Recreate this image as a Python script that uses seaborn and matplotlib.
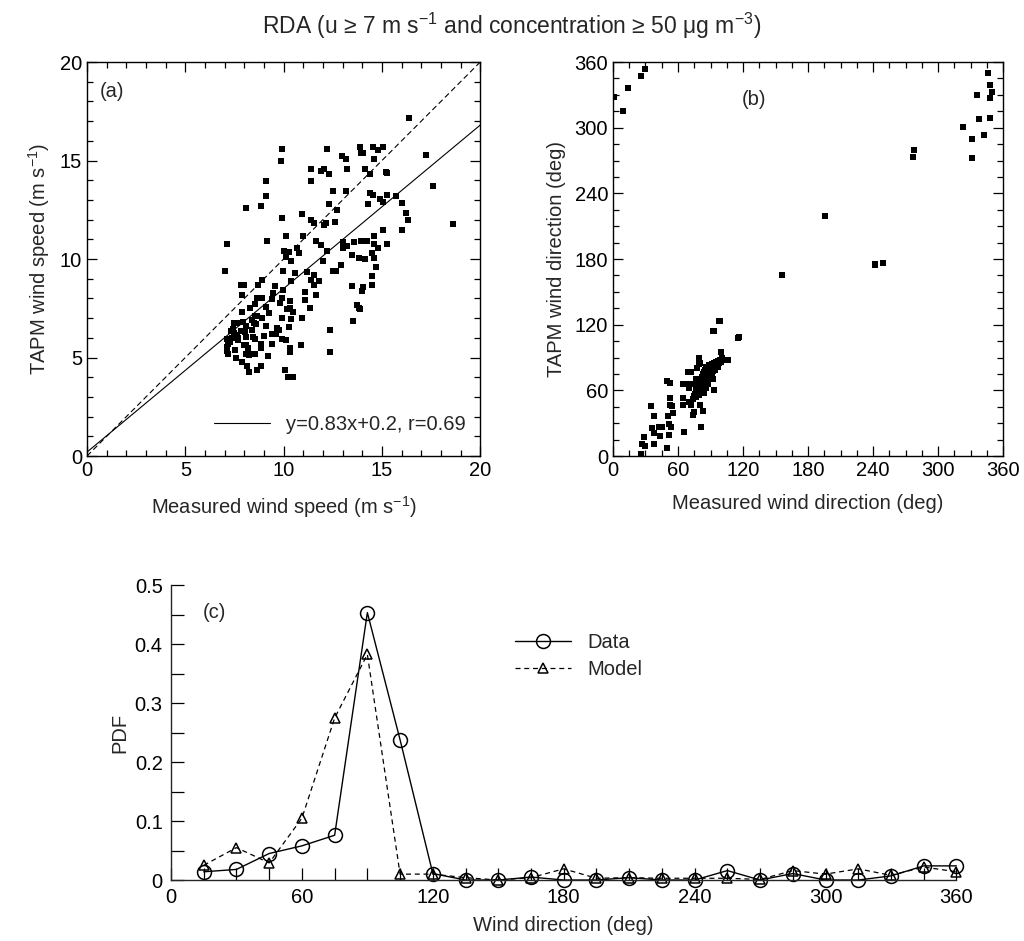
import numpy as np
import pandas as pd
import matplotlib
matplotlib.use("Agg")
import matplotlib.pyplot as plt
from matplotlib.ticker import MultipleLocator
import seaborn as sns

# ---------------- data ----------------
# Panel (a): measured vs TAPM wind speed (m/s)
speed_meas = [16.38, 9.93, 9.88, 12.22, 13.89, 14.55, 15.03, 13.92, 14.06, 14.82, 14.6, 12.95, 13.19, 17.23,
              11.41, 11.88, 12.05, 12.3, 13.21, 14.13, 14.38, 15.23, 15.28, 11.41, 9.12, 17.6, 9.12, 12.53,
              13.19, 14.38, 14.55, 14.89, 15.28, 15.7, 15.06, 14.3, 12.31, 8.83, 8.06, 12.7, 16.04, 16.21,
              16.35, 10.95, 9.93, 11.38, 11.55, 12.05, 12.17, 12.6, 18.62, 15.03, 16.04, 10.1, 11.0, 9.17,
              11.63, 7.13, 11.88, 12.22, 10.7, 10.02, 10.1, 10.27, 10.78, 13.0, 13.02, 13.24, 13.58, 13.92,
              14.23, 14.6, 14.6, 14.82, 15.28, 14.48, 13.5, 13.84, 14.14, 14.6, 10.1, 10.36, 12.0, 14.69,
              7.01, 9.98, 10.58, 11.2, 11.55, 12.51, 12.68, 11.38, 14.48, 7.84, 7.98, 8.71, 8.91, 9.56,
              9.98, 10.39, 11.07, 11.55, 11.63, 13.46, 14.06, 13.97, 14.48, 7.86, 8.66, 8.83, 8.91, 9.47,
              9.42, 9.81, 9.9, 10.31, 10.31, 10.19, 11.34, 13.75, 13.84, 13.89, 8.27, 8.54, 9.08, 9.25,
              8.52, 8.66, 8.91, 9.08, 8.4, 7.93, 7.5, 7.64, 9.93, 10.36, 10.95, 13.53, 8.1, 8.49, 7.3,
              7.47, 7.81, 8.03, 7.61, 8.1, 8.44, 7.69, 7.98, 7.13, 7.25, 7.17, 8.52, 8.83, 9.39, 9.68,
              9.76, 9.9, 10.1, 10.27, 9.39, 10.87, 12.36, 12.36, 7.13, 7.13, 7.18, 8.1, 8.1, 8.23, 8.32,
              8.54, 8.83, 10.31, 10.31, 7.59, 7.86, 8.12, 8.23, 8.66, 8.83, 10.07, 10.22, 10.48,
              7.4, 7.7, 8.2, 8.6, 9.2, 9.6, 10.5, 11.1, 11.8, 12.9, 7.9, 8.4, 9.0, 7.35, 7.55]
speed_tapm = [17.18, 15.56, 15.0, 15.56, 15.7, 15.7, 15.7, 15.36, 15.36, 15.53, 15.1, 15.22, 15.1, 15.27,
              14.59, 14.46, 14.56, 14.34, 14.59, 14.59, 14.34, 14.42, 14.39, 13.96, 13.96, 13.69, 13.21, 13.47,
              13.47, 13.37, 13.23, 13.06, 13.23, 13.21, 12.89, 12.79, 12.77, 12.7, 12.57, 12.5, 12.86, 12.35,
              12.0, 12.31, 12.07, 12.0, 11.84, 11.73, 11.82, 11.87, 11.8, 11.45, 11.45, 11.16, 11.16, 10.9,
              10.93, 10.77, 10.73, 10.42, 10.54, 10.42, 10.37, 10.34, 10.31, 10.88, 10.56, 10.68, 10.88, 10.9,
              10.93, 11.16, 10.77, 10.56, 10.77, 10.31, 10.22, 10.05, 10.0, 10.05, 10.1, 9.88, 9.88, 9.57,
              9.37, 9.37, 9.29, 9.35, 9.18, 9.37, 9.37, 8.95, 9.15, 8.69, 8.69, 8.69, 8.93, 8.61,
              8.44, 8.86, 8.35, 8.69, 8.18, 8.61, 8.57, 8.4, 8.67, 8.18, 8.04, 8.04, 8.04, 8.27,
              7.96, 7.79, 8.04, 7.87, 7.53, 7.48, 7.5, 7.65, 7.53, 7.48, 7.5, 7.7, 7.58, 7.28,
              7.11, 7.11, 7.02, 6.6, 6.9, 6.82, 6.77, 6.77, 7.02, 6.94, 7.02, 6.85, 6.6, 6.77, 6.34,
              6.26, 6.34, 6.29, 6.12, 6.05, 6.05, 5.88, 5.66, 5.92, 5.8, 5.7, 5.92, 5.71, 6.17, 6.51,
              6.39, 5.95, 5.87, 6.56, 5.71, 5.66, 6.38, 5.27, 5.53, 5.32, 5.19, 5.61, 5.19, 5.15, 5.19,
              5.19, 5.46, 5.46, 5.27, 4.99, 4.78, 4.56, 4.27, 4.35, 4.56, 4.35, 4.01, 4.01,
              6.45, 6.0, 5.5, 6.7, 5.1, 6.2, 7.3, 7.9, 8.9, 9.7, 7.3, 6.4, 6.1, 6.0, 5.4]

# Panel (b): measured vs TAPM wind direction (deg)
dir_meas = [0.9, 9.5, 13.8, 26.3, 29.9, 346.3, 347.8, 350.2, 347.8, 336.2, 337.7, 347.8, 322.7, 331.6,
            342.6, 331.6, 277.5, 276.6, 195.3, 156.2, 241.4, 241.4, 249.1, 98.7, 93.5, 116.4, 106.4,
            25.8, 26.7, 29.7, 28.8, 38.2, 38.2, 43.3, 36.1, 42.4, 44.8, 51.8, 50.0, 38.2, 34.8, 50.9,
            52.4, 52.4, 54.8, 55.5, 51.8, 53.9, 65.5, 50.3, 52.4, 64.5, 64.5, 64.5, 69.4, 71.8, 70.6,
            70.6, 72.1, 70.0, 73.6, 75.2, 80.9, 83.3, 80.6, 93.3, 97.9, 92.7, 115.2, 105.5, 99.4, 94.8,
            74, 75, 76, 77, 77, 78, 78, 79, 79, 80, 80, 80, 81, 81, 81, 82, 82, 82, 82, 83, 83, 83, 83,
            84, 84, 84, 84, 85, 85, 85, 85, 86, 86, 86, 86, 87, 87, 87, 88, 88, 88, 88, 89, 89, 89,
            90, 90, 90, 91, 91, 91, 92, 92, 93, 93, 94, 94, 95, 95, 96, 97, 97, 98, 99, 100, 101,
            78, 79, 76, 77, 84, 86, 88, 92, 79, 80.3]
dir_tapm = [327.9, 314.8, 336.2, 347.2, 353.3, 349.6, 338.6, 332.5, 327.0, 329.5, 307.5, 308.7, 300.7, 289.7,
            293.4, 272.0, 279.6, 273.5, 219.4, 165.6, 175.7, 174.2, 176.6, 123.2, 114.6, 108.5, 88.0,
            1.8, 11.0, 9.5, 17.1, 10.7, 20.8, 18.3, 25.7, 26.9, 26.9, 19.3, 7.3, 37.0, 45.6, 37.0,
            53.2, 46.8, 45.6, 39.1, 29.4, 26.9, 21.7, 68.5, 67.0, 65.4, 53.2, 46.8, 77.1, 77.1, 65.4,
            62.1, 46.8, 49.8, 37.3, 39.8, 26.9, 41.0, 46.5, 60.6, 123.2, 114.4, 108.0, 88.1, 94.8, 82.0,
            52, 55, 57, 54, 60, 58, 63, 56, 61, 59, 64, 67, 62, 66, 70, 60, 64, 68, 72, 63, 66, 70, 75,
            65, 68, 72, 77, 67, 70, 74, 79, 69, 72, 76, 81, 71, 74, 78, 70, 73, 76, 80, 75, 78, 83,
            74, 77, 81, 76, 80, 84, 78, 82, 80, 85, 79, 83, 82, 86, 84, 81, 87, 85, 88, 86, 90,
            80, 84, 66, 70, 58, 62, 66, 70, 89.6, 85]

# Panel (c): PDF of wind direction
pdf_dir = [15, 30, 45, 60, 75, 90, 105, 120, 135, 150, 165, 180, 195, 210, 225, 240, 255, 270, 285, 300,
           315, 330, 345, 360]
pdf_data = [0.014, 0.018, 0.045, 0.058, 0.076, 0.454, 0.238, 0.011, 0.0, 0.0, 0.005, 0.0, 0.0, 0.004,
            0.0, 0.0, 0.016, 0.0, 0.011, 0.0, 0.0, 0.007, 0.024, 0.024]
pdf_model = [0.025, 0.055, 0.029, 0.105, 0.275, 0.383, 0.01, 0.01, 0.004, 0.0, 0.004, 0.019, 0.003, 0.004,
             0.003, 0.003, 0.003, 0.001, 0.016, 0.01, 0.019, 0.008, 0.022, 0.014]

fit_slope, fit_icpt = 0.83, 0.2

# ---------------- style ----------------
sns.set_style("ticks")
plt.rcParams["font.family"] = ["Liberation Sans", "DejaVu Sans"]
plt.rcParams["mathtext.fontset"] = "custom"
plt.rcParams["mathtext.rm"] = "Liberation Sans"
plt.rcParams["mathtext.it"] = "Liberation Sans:italic"
plt.rcParams["mathtext.default"] = "regular"
plt.rcParams["axes.linewidth"] = 1.0
plt.rcParams["xtick.direction"] = "in"
plt.rcParams["ytick.direction"] = "in"

FS = 14.5
fig = plt.figure(figsize=(10.24, 9.41), dpi=100)
ax_a = fig.add_axes([0.085, 0.5154, 0.384, 0.4187])
ax_b = fig.add_axes([0.5986, 0.5154, 0.381, 0.4187])
ax_c = fig.add_axes([0.167, 0.0648, 0.767, 0.313])

def style_box(ax):
    for s in ax.spines.values():
        s.set_visible(True)
        s.set_color("black")
    ax.tick_params(which="both", direction="in", top=True, right=True, colors="black",
                   labelsize=FS, width=0.9)
    ax.tick_params(which="major", length=7)
    ax.tick_params(which="minor", length=4)

# ---------------- panel (a) ----------------
df_a = pd.DataFrame({"meas": speed_meas, "tapm": speed_tapm})
sns.scatterplot(data=df_a, x="meas", y="tapm", ax=ax_a, marker="s", s=15, color="black",
                edgecolor="black", linewidth=0)
xl = np.array([0, 20])
ax_a.plot(xl, xl, color="black", lw=0.8, ls=(0, (5, 3)))
ax_a.plot(xl, fit_slope * xl + fit_icpt, color="black", lw=0.8,
          label="y=0.83x+0.2, r=0.69")
ax_a.set_xlim(0, 20)
ax_a.set_ylim(0, 20)
ax_a.xaxis.set_major_locator(MultipleLocator(5))
ax_a.xaxis.set_minor_locator(MultipleLocator(1))
ax_a.yaxis.set_major_locator(MultipleLocator(5))
ax_a.yaxis.set_minor_locator(MultipleLocator(1))
style_box(ax_a)
ax_a.set_xlabel("Measured wind speed (m s$^{-1}$)", fontsize=FS, labelpad=10)
ax_a.set_ylabel("TAPM wind speed (m s$^{-1}$)", fontsize=FS, labelpad=6)
ax_a.text(0.033, 0.924, "(a)", transform=ax_a.transAxes, fontsize=FS, va="center", ha="left")
ax_a.legend(loc="lower right", frameon=False, fontsize=FS, handlelength=2.8,
            borderaxespad=0.3, bbox_to_anchor=(1.0, 0.02))

# ---------------- panel (b) ----------------
df_b = pd.DataFrame({"meas": dir_meas, "tapm": dir_tapm})
sns.scatterplot(data=df_b, x="meas", y="tapm", ax=ax_b, marker="s", s=15, color="black",
                edgecolor="black", linewidth=0, clip_on=True)
ax_b.set_xlim(0, 360)
ax_b.set_ylim(0, 360)
ax_b.xaxis.set_major_locator(MultipleLocator(60))
ax_b.xaxis.set_minor_locator(MultipleLocator(15))
ax_b.yaxis.set_major_locator(MultipleLocator(60))
ax_b.yaxis.set_minor_locator(MultipleLocator(15))
style_box(ax_b)
ax_b.set_xlabel("Measured wind direction (deg)", fontsize=FS, labelpad=10)
ax_b.set_ylabel("TAPM wind direction (deg)", fontsize=FS, labelpad=6)
ax_b.text(0.33, 0.904, "(b)", transform=ax_b.transAxes, fontsize=FS, va="center", ha="left")

# ---------------- panel (c) ----------------
df_c = pd.DataFrame({"dir": pdf_dir * 2,
                     "pdf": pdf_data + pdf_model,
                     "series": ["Data"] * len(pdf_dir) + ["Model"] * len(pdf_dir)})
sns.lineplot(data=df_c[df_c.series == "Data"], x="dir", y="pdf", ax=ax_c, color="black", lw=1.0,
             marker="o", markersize=10, markerfacecolor="none", markeredgecolor="black",
             markeredgewidth=1.1, label="Data", clip_on=False)
sns.lineplot(data=df_c[df_c.series == "Model"], x="dir", y="pdf", ax=ax_c, color="black", lw=0.9,
             linestyle=(0, (4, 3)), marker="^", markersize=7, markerfacecolor="none",
             markeredgecolor="black", markeredgewidth=1.1, label="Model", clip_on=False)
ax_c.set_xlim(0, 360)
ax_c.set_ylim(0, 0.5)
ax_c.xaxis.set_minor_locator(MultipleLocator(15))
ax_c.yaxis.set_minor_locator(MultipleLocator(0.05))
ax_c.set_yticks([0, 0.1, 0.2, 0.3, 0.4, 0.5])
ax_c.set_yticklabels(["0", "0.1", "0.2", "0.3", "0.4", "0.5"])
ax_c.set_xticks([0, 60, 120, 180, 240, 300, 360])
sns.despine(ax=ax_c)
ax_c.tick_params(which="both", direction="in", colors="black", labelsize=FS, width=0.9)
ax_c.tick_params(which="major", length=9, pad=6)
ax_c.tick_params(which="minor", length=9)
ax_c.set_xlabel("Wind direction (deg)", fontsize=FS, labelpad=6)
ax_c.set_ylabel("PDF", fontsize=FS)
ax_c.text(0.04, 0.908, "(c)", transform=ax_c.transAxes, fontsize=FS, va="center", ha="left")
ax_c.legend(loc="upper left", bbox_to_anchor=(0.415, 0.9), frameon=False, fontsize=FS,
            handlelength=2.8, labelspacing=0.4)

fig.suptitle("RDA (u \u2265 7 m s$^{-1}$ and concentration \u2265 50 \u03bcg m$^{-3}$)",
             fontsize=16.5, y=0.988)

fig.savefig("out.png", dpi=100)
